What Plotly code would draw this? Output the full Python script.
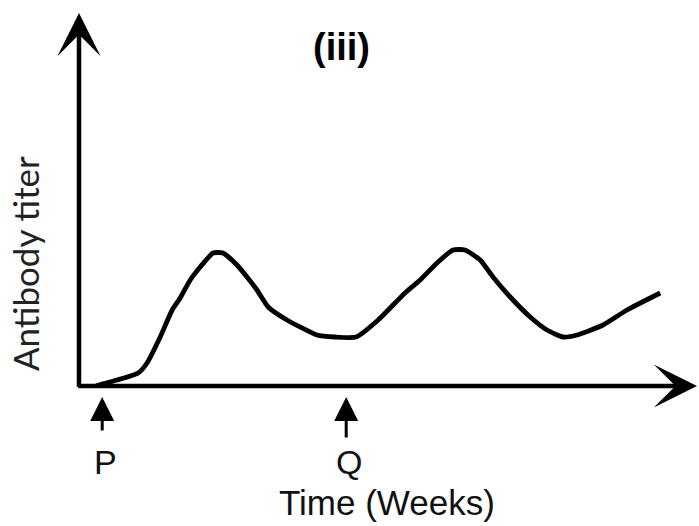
import plotly.graph_objects as go

# antibody titer curve (time in arbitrary week units, titer in arbitrary units)
weeks = [0.43, 0.58, 0.95, 1.48, 1.70, 2.03, 2.33, 2.53, 2.78, 3.03, 3.35, 3.60,
         3.95, 4.20, 4.45, 4.73, 5.20, 5.95, 6.40, 6.93, 7.48, 8.15, 8.53, 8.95,
         9.35, 9.65, 10.03, 10.35, 10.78, 11.28, 11.70, 12.10, 12.45, 13.10, 13.70, 14.53]
titer = [0.0, 0.2, 0.6, 1.3, 2.3, 4.9, 7.6, 8.8, 10.6, 11.9, 13.3, 13.3,
         12.1, 10.9, 9.6, 7.9, 6.6, 5.1, 4.9, 4.9, 6.6, 9.3, 10.6, 12.3,
         13.6, 13.6, 12.6, 10.9, 8.9, 6.9, 5.6, 4.9, 5.1, 6.1, 7.6, 9.3]

# exposure markers below the time axis
marker_weeks = [0.58, 6.68]
marker_labels = ["P", "Q"]

X_MAX = 15.5
Y_MAX = 38.6

fig = go.Figure()
fig.add_trace(go.Scatter(x=weeks, y=titer, mode="lines",
                         line=dict(color="#000000", width=4.8, shape="spline", smoothing=0.5),
                         hoverinfo="skip", showlegend=False))

annotations = []
# axes drawn as arrows
annotations.append(dict(x=0, y=37.3, ax=0, ay=-0.22, xref="x", yref="y", axref="x", ayref="y",
                        text="", showarrow=True, arrowhead=3, arrowsize=1.6, arrowwidth=4.5,
                        arrowcolor="#000000", standoff=0))
annotations.append(dict(x=15.45, y=0, ax=-0.056, ay=0, xref="x", yref="y", axref="x", ayref="y",
                        text="", showarrow=True, arrowhead=3, arrowsize=1.6, arrowwidth=4.5,
                        arrowcolor="#000000", standoff=0))

for wk, lab, tail in zip(marker_weeks, marker_labels, [35, 42]):
    annotations.append(dict(x=wk, y=-0.0285, xref="x", yref="paper", ax=0, ay=tail,
                            text="", showarrow=True, arrowhead=2, arrowsize=1.6, arrowwidth=3,
                            arrowcolor="#000000", standoff=0))
    annotations.append(dict(x=wk + 0.07, y=-0.197, xref="x", yref="paper", text=lab, showarrow=False,
                            font=dict(family="Liberation Sans, Arial", size=34, color="#111111"),
                            xanchor="center", yanchor="middle"))

annotations.append(dict(x=0.497, y=-0.303, xref="paper", yref="paper", text="Time (Weeks)",
                        showarrow=False, xanchor="center", yanchor="middle",
                        font=dict(family="Liberation Sans, Arial", size=35, color="#111111")))
annotations.append(dict(x=-0.087, y=0.316, xref="paper", yref="paper", text="Antibody titer",
                        showarrow=False, textangle=-90, xanchor="center", yanchor="middle",
                        font=dict(family="Lato, Open Sans", size=35, color="#222222")))
annotations.append(dict(x=0.424, y=0.878, xref="paper", yref="paper", text="<b>(iii)</b>",
                        showarrow=False, xanchor="center", yanchor="middle",
                        font=dict(family="Liberation Sans, Arial", size=38, color="#000000")))

fig.update_layout(
    width=699, height=526,
    margin=dict(l=79, r=0, t=0, b=140),
    paper_bgcolor="white", plot_bgcolor="white",
    xaxis=dict(range=[0, X_MAX], visible=False, fixedrange=True),
    yaxis=dict(range=[0, Y_MAX], visible=False, fixedrange=True),
    annotations=annotations,
)

# page body has a default 8px margin; drop it so the figure fills the window
fig.write_html("out.html", config={"displayModeBar": False},
               post_script="document.body.style.margin='0';document.body.style.overflow='hidden';")
